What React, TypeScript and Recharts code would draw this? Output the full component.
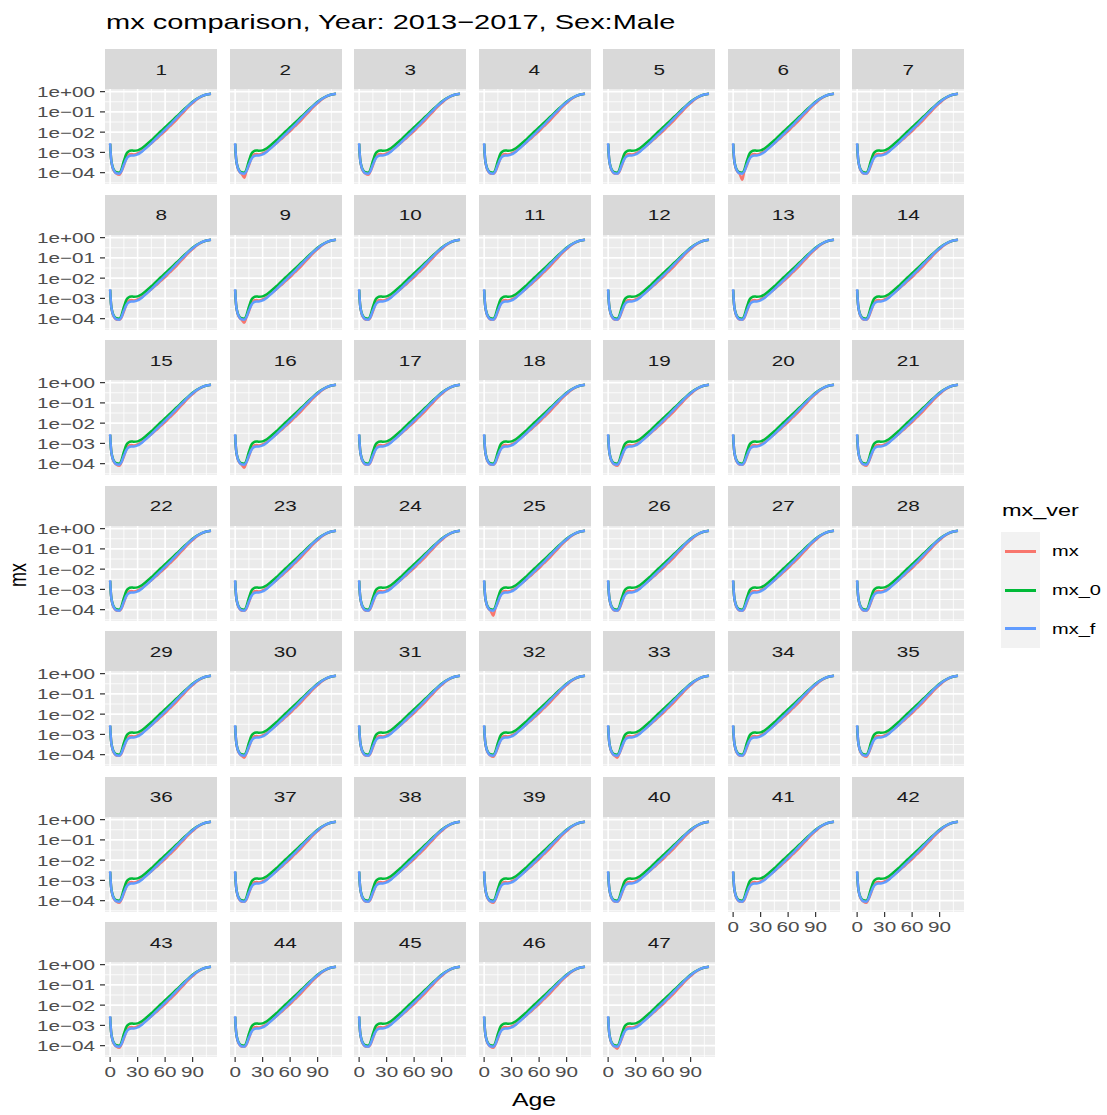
import { CartesianGrid, Line, LineChart, XAxis, YAxis } from "recharts";

// ages and log10(mx) (same shape in every area)
const AGES = [0, 1, 2, 3, 5, 7, 10, 12, 15, 18, 20, 23, 26, 30, 35, 40, 45, 50, 55, 60, 65, 70, 75, 80, 85, 90, 95, 100, 105, 110];
const MX = [-2.58, -3.3, -3.62, -3.8, -3.97, -4.05, -4.08, -3.98, -3.65, -3.28, -3.12, -3.08, -3.1, -3.05, -2.92, -2.74, -2.55, -2.36, -2.15, -1.95, -1.72, -1.5, -1.26, -1.02, -0.78, -0.57, -0.38, -0.24, -0.15, -0.1];
const MX_0 = [-2.58, -3.3, -3.58, -3.75, -3.92, -3.98, -4.0, -3.88, -3.42, -3.05, -2.95, -2.9, -2.92, -2.9, -2.78, -2.6, -2.4, -2.18, -1.97, -1.76, -1.55, -1.33, -1.12, -0.9, -0.7, -0.5, -0.34, -0.22, -0.14, -0.1];
const MX_F = [-2.55, -3.3, -3.6, -3.78, -3.95, -4.03, -4.05, -3.95, -3.6, -3.3, -3.2, -3.15, -3.15, -3.1, -2.95, -2.75, -2.54, -2.32, -2.1, -1.88, -1.65, -1.42, -1.18, -0.95, -0.72, -0.52, -0.35, -0.22, -0.14, -0.1];

// mx at age 10 differs by area (the red dip)
const MX_AGE10_BY_AREA = [
  -4.1, -4.25, -4.1, -4.05, -4.05, -4.35, -4.05,
  -4.05, -4.2, -4.05, -4.05, -4.05, -4.05, -4.05,
  -4.1, -4.2, -4.05, -4.05, -4.1, -4.05, -4.1,
  -4.05, -4.05, -4.05, -4.3, -4.05, -4.05, -4.05,
  -4.05, -4.15, -4.05, -4.1, -4.15, -4.05, -4.1,
  -4.1, -4.05, -4.05, -4.1, -4.05, -4.05, -4.1,
  -4.1, -4.05, -4.05, -4.1, -4.15,
];
const AREAS = MX_AGE10_BY_AREA.map((_, i) => String(i + 1));

const X_TICKS = [0, 30, 60, 90];
const X_MINOR = [15, 45, 75, 105];
const Y_TICKS = [-4, -3, -2, -1, 0];
const Y_TICK_LABELS = ["1e\u221204", "1e\u221203", "1e\u221202", "1e\u221201", "1e+00"];
const Y_MINOR = [-4.5, -3.5, -2.5, -1.5, -0.5];

const SERIES = [
  { key: "mx", color: "#F8766D" },
  { key: "mx_0", color: "#00BA38" },
  { key: "mx_f", color: "#619CFF" },
];

const FONT = '"Liberation Sans", Arial, sans-serif';
const SX = 1.38; // the source image is stretched horizontally
const NCOL = 7;
const COL_LEFT = 105;
const COL_STEP = 124.5;
const PANEL_W = 112;
const ROW_TOP = 49;
const ROW_STEP = 145.5;
const STRIP_H = 40;
const PLOT_H = 95;
const PAD_TOP = 10;
const Y_AXIS_W = 100;
const X_AXIS_H = 30;

function YTick(props: any) {
  const { x, y, payload } = props;
  const idx = Y_TICKS.indexOf(payload.value);
  return (
    <g transform={`translate(${x},${y}) scale(${SX},1)`}>
      <text x={0} y={0} dy="0.36em" textAnchor="end" fill="#4D4D4D" fontSize={15} fontFamily={FONT}>
        {Y_TICK_LABELS[idx]}
      </text>
    </g>
  );
}

function XTick(props: any) {
  const { x, y, payload } = props;
  return (
    <g transform={`translate(${x},${y}) scale(${SX},1)`}>
      <text x={0} y={0} dy="0.72em" textAnchor="middle" fill="#4D4D4D" fontSize={15} fontFamily={FONT}>
        {payload.value}
      </text>
    </g>
  );
}

function Panel({ index }: { index: number }) {
  const row = Math.floor(index / NCOL);
  const col = index % NCOL;
  const showY = col === 0;
  const showX = index + NCOL >= AREAS.length;
  const left = COL_LEFT + col * COL_STEP;
  const top = ROW_TOP + row * ROW_STEP;
  const data = AGES.map((age, k) => ({
    age,
    mx: age === 10 ? MX_AGE10_BY_AREA[index] : MX[k],
    mx_0: MX_0[k],
    mx_f: MX_F[k],
  }));

  return (
    <>
      <div
        style={{
          position: "absolute",
          left,
          top,
          width: PANEL_W,
          height: STRIP_H,
          background: "#D9D9D9",
          display: "flex",
          alignItems: "center",
          justifyContent: "center",
          color: "#1A1A1A",
          fontSize: 15,
        }}
      >
        <span style={{ display: "inline-block", transform: `scaleX(${SX})` }}>{AREAS[index]}</span>
      </div>
      <div style={{ position: "absolute", left: left - (showY ? Y_AXIS_W : 0), top: top + STRIP_H - PAD_TOP }}>
        <LineChart
          width={PANEL_W + (showY ? Y_AXIS_W : 0)}
          height={PAD_TOP + PLOT_H + (showX ? X_AXIS_H : 0)}
          data={data}
          margin={{ top: PAD_TOP, right: 0, bottom: 0, left: 0 }}
        >
          <CartesianGrid
            fill="#EBEBEB"
            stroke="#FFFFFF"
            strokeWidth={0.8}
            horizontalValues={Y_MINOR}
            verticalValues={X_MINOR}
          />
          <CartesianGrid stroke="#FFFFFF" strokeWidth={1.6} horizontalValues={Y_TICKS} verticalValues={X_TICKS} />
          <XAxis
            dataKey="age"
            type="number"
            domain={[-5.6, 116.6]}
            ticks={X_TICKS}
            interval={0}
            allowDataOverflow
            hide={!showX}
            height={X_AXIS_H}
            axisLine={false}
            tickSize={5}
            tickMargin={4}
            tickLine={{ stroke: "#333333", strokeWidth: 1.2 }}
            tick={(p: any) => <XTick {...p} />}
          />
          <YAxis
            type="number"
            domain={[-4.56, 0.13]}
            ticks={Y_TICKS}
            interval={0}
            allowDataOverflow
            hide={!showY}
            width={Y_AXIS_W}
            axisLine={false}
            tickSize={5}
            tickMargin={5}
            tickLine={{ stroke: "#333333", strokeWidth: 1.2 }}
            tick={(p: any) => <YTick {...p} />}
          />
          {SERIES.map((s) => (
            <Line
              key={s.key}
              type="monotone"
              dataKey={s.key}
              stroke={s.color}
              strokeWidth={2.5}
              dot={false}
              activeDot={false}
              isAnimationActive={false}
            />
          ))}
        </LineChart>
      </div>
    </>
  );
}

export default function App() {
  return (
    <div
      style={{
        position: "absolute",
        left: 0,
        top: 0,
        width: 1107,
        height: 1115,
        background: "#FFFFFF",
        fontFamily: FONT,
        overflow: "hidden",
      }}
    >
      <div style={{ position: "absolute", left: 106, top: 8, lineHeight: "28px", fontSize: 21, color: "#000" }}>
        <span style={{ display: "inline-block", transform: `scaleX(${SX})`, transformOrigin: "left center", whiteSpace: "nowrap" }}>
          mx comparison, Year: 2013{"\u2212"}2017, Sex:Male
        </span>
      </div>

      {AREAS.map((_, i) => (
        <Panel key={i} index={i} />
      ))}

      {/* y axis title */}
      <div style={{ position: "absolute", left: 18, top: 575, transform: `scaleX(${SX}) rotate(-90deg)`, transformOrigin: "0 0" }}>
        <span style={{ position: "absolute", transform: "translate(-50%,-50%)", fontSize: 18, whiteSpace: "nowrap" }}>mx</span>
      </div>
      {/* x axis title */}
      <div style={{ position: "absolute", left: 534, top: 1100, transform: `scaleX(${SX})`, transformOrigin: "0 0" }}>
        <span style={{ position: "absolute", transform: "translate(-50%,-50%)", fontSize: 18, whiteSpace: "nowrap" }}>Age</span>
      </div>

      {/* legend */}
      <div style={{ position: "absolute", left: 1002, top: 502, fontSize: 17, lineHeight: 1 }}>
        <span style={{ display: "inline-block", transform: `scaleX(${SX})`, transformOrigin: "left center" }}>mx_ver</span>
      </div>
      <div style={{ position: "absolute", left: 1001, top: 532, width: 39, height: 116, background: "#F2F2F2" }} />
      {SERIES.map((s, i) => (
        <div key={s.key}>
          <div
            style={{
              position: "absolute",
              left: 1005,
              top: 551.3 + i * 38.7 - 1.5,
              width: 31,
              height: 3,
              background: s.color,
            }}
          />
          <div style={{ position: "absolute", left: 1052, top: 551.3 + i * 38.7 - 10, height: 20, lineHeight: "20px", fontSize: 14.5 }}>
            <span style={{ display: "inline-block", transform: `scaleX(${SX})`, transformOrigin: "left center" }}>{s.key}</span>
          </div>
        </div>
      ))}
    </div>
  );
}
